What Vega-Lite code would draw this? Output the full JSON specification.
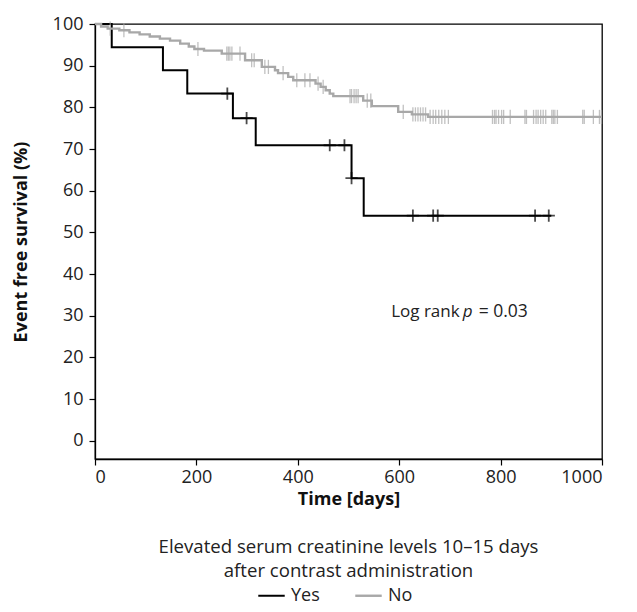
{
  "$schema": "https://vega.github.io/schema/vega-lite/v6.json",
  "width": 507,
  "height": 435,
  "autosize": "none",
  "padding": {"left": 95, "top": 24, "right": 35, "bottom": 153},
  "background": "white",
  "title": {
    "text": ["Elevated serum creatinine levels 10–15 days", "after contrast administration"],
    "orient": "bottom", "anchor": "middle", "frame": "group", "offset": -67,
    "font": "Open Sans", "fontSize": 18.6, "fontWeight": "normal", "color": "#222", "lineHeight": 24
  },
  "config": {
    "view": {"stroke": "black", "strokeWidth": 1.3},
    "axis": {
      "labelFont": "Open Sans", "labelFontSize": 18, "labelColor": "#222",
      "titleFont": "Open Sans", "titleFontWeight": "bold", "titleFontSize": 18, "titleColor": "#111",
      "domainColor": "black", "domainWidth": 1.3, "tickColor": "black", "tickWidth": 1.2, "tickSize": 6, "grid": false
    },
    "legend": {
      "labelFont": "Open Sans", "labelFontSize": 18, "labelColor": "#222"
    }
  },
  "datasets": {
    "curve": [
      {"group": "Yes", "t": 0, "s": 100}, {"group": "Yes", "t": 33, "s": 94.4}, {"group": "Yes", "t": 134, "s": 88.9},
      {"group": "Yes", "t": 182, "s": 83.3}, {"group": "Yes", "t": 272, "s": 77.4}, {"group": "Yes", "t": 317, "s": 70.9},
      {"group": "Yes", "t": 506, "s": 63.0}, {"group": "Yes", "t": 530, "s": 54.0}, {"group": "Yes", "t": 900, "s": 54.0},
      {"group": "No", "t": 0, "s": 100}, {"group": "No", "t": 12, "s": 99.4}, {"group": "No", "t": 25, "s": 98.9},
      {"group": "No", "t": 48, "s": 98.5}, {"group": "No", "t": 68, "s": 98.0}, {"group": "No", "t": 88, "s": 97.5},
      {"group": "No", "t": 108, "s": 97.0}, {"group": "No", "t": 128, "s": 96.5}, {"group": "No", "t": 148, "s": 96.0},
      {"group": "No", "t": 168, "s": 95.3}, {"group": "No", "t": 185, "s": 94.6}, {"group": "No", "t": 196, "s": 94.0},
      {"group": "No", "t": 215, "s": 93.6}, {"group": "No", "t": 250, "s": 92.9}, {"group": "No", "t": 296, "s": 91.3},
      {"group": "No", "t": 329, "s": 89.7}, {"group": "No", "t": 355, "s": 88.9}, {"group": "No", "t": 361, "s": 88.2},
      {"group": "No", "t": 381, "s": 87.3}, {"group": "No", "t": 391, "s": 86.5}, {"group": "No", "t": 435, "s": 85.7},
      {"group": "No", "t": 445, "s": 84.9}, {"group": "No", "t": 455, "s": 84.1}, {"group": "No", "t": 463, "s": 83.3},
      {"group": "No", "t": 470, "s": 82.7}, {"group": "No", "t": 529, "s": 81.6}, {"group": "No", "t": 546, "s": 80.3},
      {"group": "No", "t": 598, "s": 78.9}, {"group": "No", "t": 625, "s": 78.3}, {"group": "No", "t": 657, "s": 77.7},
      {"group": "No", "t": 1000, "s": 77.7}
    ],
    "censor": [
      {"group": "Yes", "t": 261, "s": 83.3}, {"group": "Yes", "t": 299, "s": 77.4}, {"group": "Yes", "t": 463, "s": 70.9},
      {"group": "Yes", "t": 492, "s": 70.9}, {"group": "Yes", "t": 506, "s": 63.0}, {"group": "Yes", "t": 627, "s": 54.0},
      {"group": "Yes", "t": 667, "s": 54.0}, {"group": "Yes", "t": 676, "s": 54.0}, {"group": "Yes", "t": 868, "s": 54.0},
      {"group": "Yes", "t": 895, "s": 54.0},
      {"group": "No", "t": 30, "s": 98.9}, {"group": "No", "t": 57, "s": 98.5}, {"group": "No", "t": 203, "s": 94.0},
      {"group": "No", "t": 260, "s": 92.9}, {"group": "No", "t": 263, "s": 92.9}, {"group": "No", "t": 266, "s": 92.9},
      {"group": "No", "t": 270, "s": 92.9}, {"group": "No", "t": 286, "s": 92.9}, {"group": "No", "t": 309, "s": 91.3},
      {"group": "No", "t": 314, "s": 91.3}, {"group": "No", "t": 335, "s": 89.7}, {"group": "No", "t": 342, "s": 89.7},
      {"group": "No", "t": 371, "s": 88.2}, {"group": "No", "t": 398, "s": 86.5}, {"group": "No", "t": 414, "s": 86.5},
      {"group": "No", "t": 424, "s": 86.5}, {"group": "No", "t": 440, "s": 85.7}, {"group": "No", "t": 450, "s": 84.9},
      {"group": "No", "t": 503, "s": 82.7}, {"group": "No", "t": 506, "s": 82.7}, {"group": "No", "t": 511, "s": 82.7},
      {"group": "No", "t": 515, "s": 82.7}, {"group": "No", "t": 519, "s": 82.7}, {"group": "No", "t": 537, "s": 81.6},
      {"group": "No", "t": 544, "s": 81.6}, {"group": "No", "t": 608, "s": 78.9}, {"group": "No", "t": 627, "s": 78.3},
      {"group": "No", "t": 632, "s": 78.3}, {"group": "No", "t": 637, "s": 78.3}, {"group": "No", "t": 642, "s": 78.3},
      {"group": "No", "t": 647, "s": 78.3}, {"group": "No", "t": 652, "s": 78.3}, {"group": "No", "t": 661, "s": 77.7},
      {"group": "No", "t": 667, "s": 77.7}, {"group": "No", "t": 672, "s": 77.7}, {"group": "No", "t": 678, "s": 77.7},
      {"group": "No", "t": 684, "s": 77.7}, {"group": "No", "t": 690, "s": 77.7}, {"group": "No", "t": 697, "s": 77.7},
      {"group": "No", "t": 784, "s": 77.7}, {"group": "No", "t": 788, "s": 77.7}, {"group": "No", "t": 791, "s": 77.7},
      {"group": "No", "t": 796, "s": 77.7}, {"group": "No", "t": 802, "s": 77.7}, {"group": "No", "t": 806, "s": 77.7},
      {"group": "No", "t": 819, "s": 77.7}, {"group": "No", "t": 848, "s": 77.7}, {"group": "No", "t": 851, "s": 77.7},
      {"group": "No", "t": 865, "s": 77.7}, {"group": "No", "t": 870, "s": 77.7}, {"group": "No", "t": 874, "s": 77.7},
      {"group": "No", "t": 879, "s": 77.7}, {"group": "No", "t": 884, "s": 77.7}, {"group": "No", "t": 889, "s": 77.7},
      {"group": "No", "t": 901, "s": 77.7}, {"group": "No", "t": 904, "s": 77.7}, {"group": "No", "t": 907, "s": 77.7},
      {"group": "No", "t": 912, "s": 77.7}, {"group": "No", "t": 962, "s": 77.7}, {"group": "No", "t": 965, "s": 77.7},
      {"group": "No", "t": 983, "s": 77.7}, {"group": "No", "t": 995, "s": 77.7}, {"group": "No", "t": 999, "s": 77.7}
    ],
    "note": [{"x": 735, "y": 31}]
  },
  "layer": [
    {
      "data": {"name": "curve"},
      "mark": {"type": "line", "interpolate": "step-after"},
      "encoding": {
        "x": {"field": "t", "type": "quantitative", "scale": {"domain": [0, 1000], "nice": false},
              "axis": {"values": [0, 200, 400, 600, 800, 1000], "format": "d", "title": "Time [days]", "labelPadding": 3, "titlePadding": 4}},
        "y": {"field": "s", "type": "quantitative", "scale": {"domain": [-4.4, 100], "nice": false, "zero": false},
              "axis": {"values": [0, 10, 20, 30, 40, 50, 60, 70, 80, 90, 100], "title": "Event free survival (%)", "labelPadding": 6, "titlePadding": 22}},
        "color": {"field": "group", "type": "nominal",
                  "scale": {"domain": ["Yes", "No"], "range": ["black", "#a8a8a8"]},
                  "legend": {"orient": "none", "legendX": 162, "legendY": 557, "direction": "horizontal", "title": null,
                             "symbolType": "stroke", "symbolSize": 700, "symbolStrokeWidth": 2,
                             "columnPadding": 30, "labelOffset": 5}},
        "strokeWidth": {"field": "group", "type": "nominal", "scale": {"domain": ["Yes", "No"], "range": [2, 2.4]}, "legend": null}
      }
    },
    {
      "data": {"name": "censor"},
      "transform": [{"filter": "datum.group === 'No'"}],
      "mark": {"type": "point", "shape": "M0,-1L0,1", "filled": false, "stroke": "#a8a8a8", "strokeWidth": 1.3, "size": 200},
      "encoding": {"x": {"field": "t", "type": "quantitative"}, "y": {"field": "s", "type": "quantitative"}}
    },
    {
      "data": {"name": "censor"},
      "transform": [{"filter": "datum.group === 'Yes'"}],
      "mark": {"type": "point", "shape": "M0,-1L0,1M-1,0L1,0", "filled": false, "stroke": "black", "strokeWidth": 1.8, "size": 150},
      "encoding": {"x": {"field": "t", "type": "quantitative"}, "y": {"field": "s", "type": "quantitative"}}
    },
    {
      "data": {"name": "note"},
      "mark": {"type": "text", "text": "Log rank", "align": "right", "dx": -8, "font": "Open Sans", "fontSize": 17, "color": "#222"},
      "encoding": {"x": {"field": "x", "type": "quantitative"}, "y": {"field": "y", "type": "quantitative"}}
    },
    {
      "data": {"name": "note"},
      "mark": {"type": "text", "text": "p", "align": "center", "font": "Open Sans", "fontStyle": "italic", "fontSize": 17, "color": "#222"},
      "encoding": {"x": {"field": "x", "type": "quantitative"}, "y": {"field": "y", "type": "quantitative"}}
    },
    {
      "data": {"name": "note"},
      "mark": {"type": "text", "text": "= 0.03", "align": "left", "dx": 11, "font": "Open Sans", "fontSize": 17.5, "color": "#222"},
      "encoding": {"x": {"field": "x", "type": "quantitative"}, "y": {"field": "y", "type": "quantitative"}}
    }
  ]
}
